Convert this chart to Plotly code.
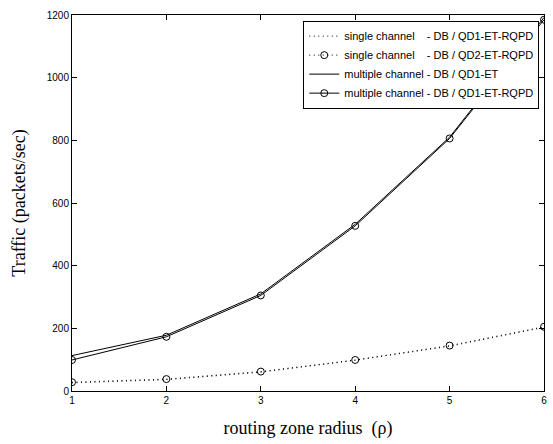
import plotly.graph_objects as go

radius = [1, 2, 3, 4, 5, 6]
single_qd1_rqpd = [26, 36, 60, 98, 143, 203]
single_qd2_rqpd = [28, 38, 62, 99, 145, 205]
multi_qd1_et = [113, 178, 310, 532, 810, 1192]
multi_qd1_et_rqpd = [99, 173, 305, 527, 806, 1185]

names = [
    "single channel\u00a0\u00a0\u00a0\u00a0- DB / QD1-ET-RQPD",
    "single channel\u00a0\u00a0\u00a0\u00a0- DB / QD2-ET-RQPD",
    "multiple channel - DB / QD1-ET",
    "multiple channel - DB / QD1-ET-RQPD",
]

dotted = "1px,3.5px"

fig = go.Figure()
fig.add_trace(go.Scatter(x=radius, y=single_qd1_rqpd, name=names[0], mode="lines",
                         line=dict(color="black", width=1, dash=dotted)))
fig.add_trace(go.Scatter(x=radius, y=single_qd2_rqpd, name=names[1], mode="lines+markers",
                         line=dict(color="black", width=1, dash=dotted),
                         marker=dict(symbol="circle-open", size=7, color="black", line=dict(width=1))))
fig.add_trace(go.Scatter(x=radius, y=multi_qd1_et, name=names[2], mode="lines",
                         line=dict(color="black", width=1)))
fig.add_trace(go.Scatter(x=radius, y=multi_qd1_et_rqpd, name=names[3], mode="lines+markers",
                         line=dict(color="black", width=1),
                         marker=dict(symbol="circle-open", size=7, color="black", line=dict(width=1))))

axis_common = dict(showgrid=False, zeroline=False, showline=True, linecolor="black", linewidth=1,
                   mirror="ticks", ticks="inside", ticklen=5, tickcolor="black",
                   tickfont=dict(family="Arial, Liberation Sans", size=10, color="black"))

title_font = dict(family="Times New Roman, Liberation Serif", size=18, color="black")

fig.update_layout(
    width=553, height=444,
    margin=dict(l=72, r=6, t=15, b=53),
    paper_bgcolor="white", plot_bgcolor="white",
    showlegend=True,
    legend=dict(x=0.49, y=0.985, xanchor="left", yanchor="top",
                bgcolor="white", bordercolor="black", borderwidth=1,
                font=dict(family="Arial, Liberation Sans", size=11, color="black"),
                itemwidth=30, tracegroupgap=0),
    xaxis=dict(range=[1, 6], tickvals=radius, ticktext=[str(v) for v in radius],
               title=dict(text="routing zone radius\u00a0\u00a0(ρ)", font=title_font, standoff=16),
               **axis_common),
    yaxis=dict(range=[0, 1200], tickvals=[0, 200, 400, 600, 800, 1000, 1200],
               title=dict(text="Traffic (packets/sec)", font=title_font, standoff=16),
               **axis_common),
)

fig.write_html("out.html")
